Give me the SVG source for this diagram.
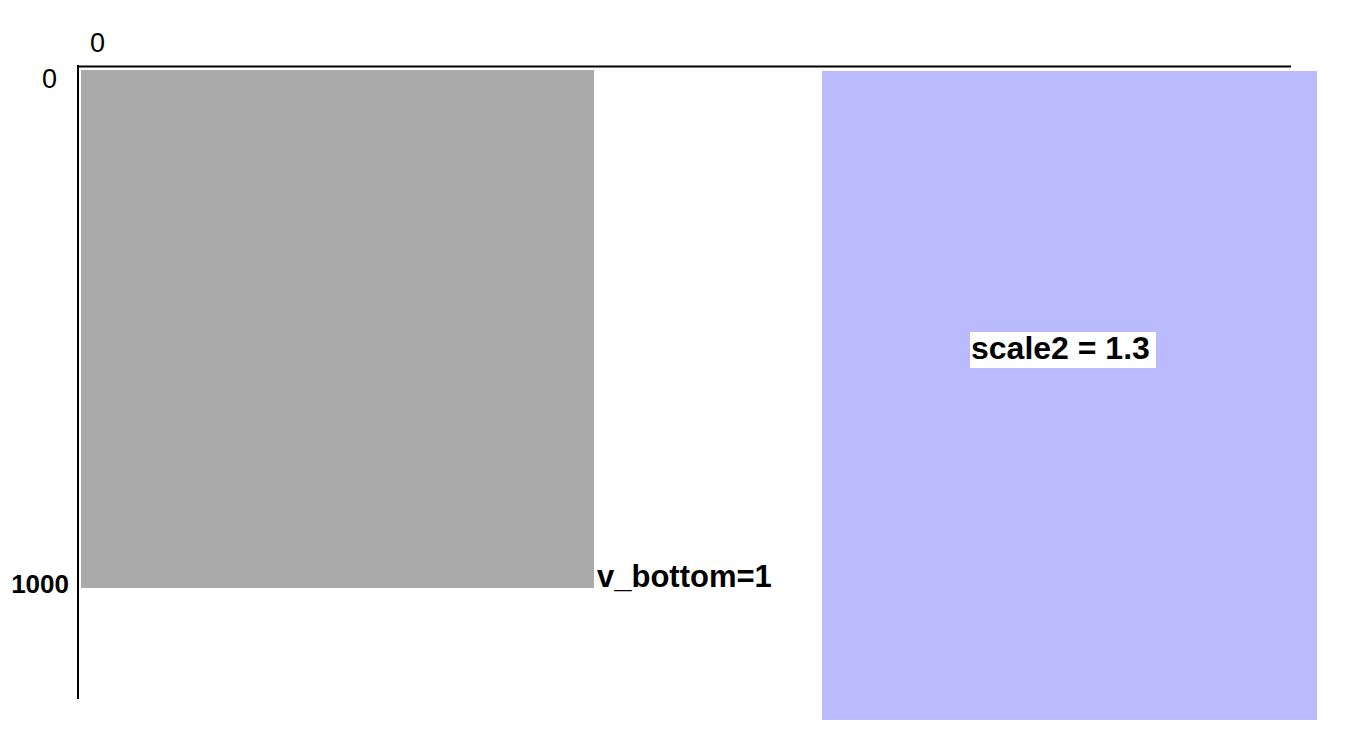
<svg xmlns="http://www.w3.org/2000/svg" width="1349" height="747" viewBox="0 0 1349 747">
  <style>
    .axis { stroke: #000000; stroke-width: 2; fill: none; }
    .lbl { font-family: "Liberation Sans", Arial, sans-serif; fill: #000000; }
    .b { font-weight: bold; }
  </style>
  <rect x="0" y="0" width="1349" height="747" fill="#ffffff"/>
  <g id="axes">
    <line class="axis" x1="78" y1="65" x2="78" y2="699"/>
    <line class="axis" x1="77" y1="66.5" x2="1291" y2="66.5"/>
    <text class="lbl" x="90" y="52" font-size="27">0</text>
    <text class="lbl" x="42" y="88" font-size="27">0</text>
    <text class="lbl b" x="69" y="593" font-size="26" text-anchor="end">1000</text>
  </g>
  <g id="gray-rect">
    <rect x="81" y="70" width="513" height="518" fill="#aaaaaa"/>
  </g>
  <g id="v-bottom-label">
    <text class="lbl b" x="597" y="587" font-size="31">v_bottom=1</text>
  </g>
  <g id="blue-rect">
    <rect x="822" y="71" width="495" height="649" fill="#babbff"/>
    <rect x="970" y="332" width="186" height="36" fill="#ffffff"/>
    <text class="lbl b" x="971" y="359" font-size="32">scale2 = 1.3</text>
  </g>
</svg>
